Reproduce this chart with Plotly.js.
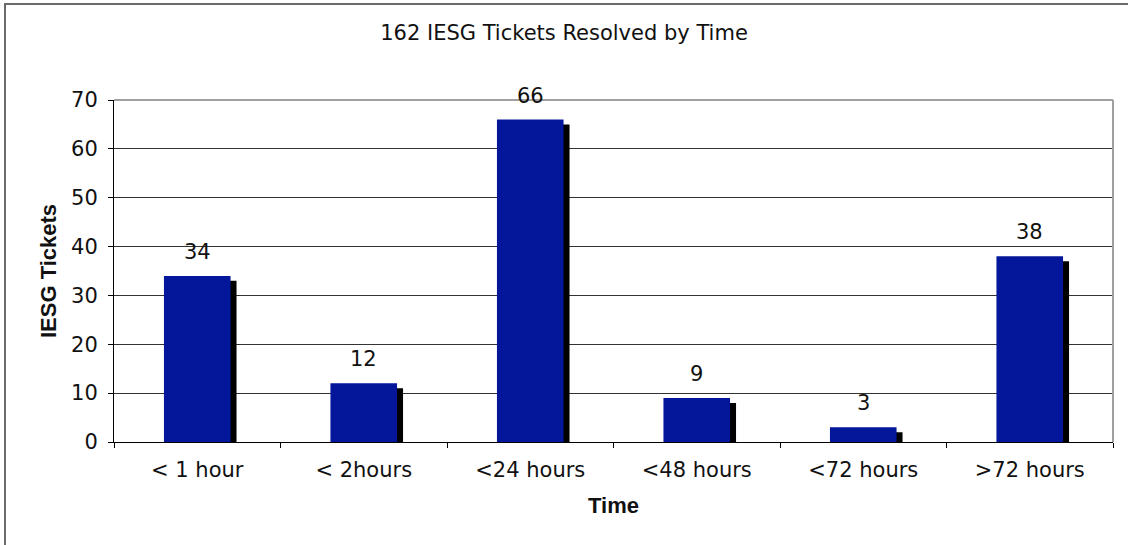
<!DOCTYPE html>
<html>
<head>
<meta charset="utf-8">
<script src="https://cdn.plot.ly/plotly-3.0.1.min.js"></script>
<style>
  html, body { margin: 0; padding: 0; background: #ffffff; }
  #wrap { position: relative; width: 1128px; height: 545px; overflow: hidden; }
  #chart { width: 1128px; height: 545px; }
  #frame { position: absolute; left: 4px; top: 3px; width: 2000px; height: 2000px;
           border: 2px solid #6a6a6a; pointer-events: none; }
</style>
</head>
<body>
<div id="wrap">
  <div id="chart"></div>
  <div id="frame"></div>
</div>
<script>
const categories = ['< 1 hour', '< 2hours', '<24 hours', '<48 hours', '<72 hours', '>72 hours'];
const tickets = [34, 12, 66, 9, 3, 38];
const yTicks = [0, 10, 20, 30, 40, 50, 60, 70];

const FONT = 'DejaVu Sans, Liberation Sans, sans-serif';
const BOLD = 'Liberation Sans, Arial, sans-serif';
const barWidth = 0.4;
const shadowDx = 0.036;   // category units (about 6 px)
const shadowDy = 1.0;     // value units (about 5 px)

const shadow = {
  type: 'bar', x: categories, y: tickets.map(v => v - shadowDy),
  width: barWidth, offset: -barWidth / 2 + shadowDx,
  marker: { color: '#000000', line: { width: 0 } },
  hoverinfo: 'skip', showlegend: false
};
const bars = {
  type: 'bar', x: categories, y: tickets,
  width: barWidth, offset: -barWidth / 2,
  marker: { color: '#04179a', line: { width: 0 } },
  showlegend: false
};

const annotations = categories.map((c, i) => ({
  x: c, y: tickets[i], xref: 'x', yref: 'y',
  text: String(tickets[i]), showarrow: false,
  yanchor: 'bottom', yshift: 10,
  font: { family: FONT, size: 21, color: '#111111' }
}));

const layout = {
  width: 1128, height: 545,
  margin: { l: 114, r: 15, t: 100, b: 103 },
  paper_bgcolor: '#ffffff', plot_bgcolor: '#ffffff',
  barmode: 'overlay', bargap: 0.6,
  title: { text: '162 IESG Tickets Resolved by Time', x: 0.5, xanchor: 'center',
           y: 1 - 33 / 545, yanchor: 'middle', yref: 'container',
           font: { family: FONT, size: 21, color: '#111111' } },
  xaxis: {
    type: 'category', showgrid: false, zeroline: false,
    showline: true, linecolor: '#000000', linewidth: 1,
    ticks: 'outside', tickson: 'boundaries', ticklen: 5, tickcolor: '#000000',
    ticklabelstandoff: 9,
    tickfont: { family: FONT, size: 21, color: '#111111' },
    title: { text: '<b>Time</b>', standoff: 16, font: { family: BOLD, size: 22, color: '#111111' } }
  },
  yaxis: {
    range: [0, 70], tickvals: yTicks, ticktext: yTicks.map(String),
    showgrid: true, gridcolor: '#333333', gridwidth: 1, zeroline: false,
    showline: true, linecolor: '#000000', linewidth: 1,
    ticks: 'outside', ticklen: 5, tickcolor: '#000000',
    ticklabelstandoff: 6,
    tickfont: { family: FONT, size: 21, color: '#111111' },
    title: { text: '<b>IESG Tickets</b>', standoff: 8, font: { family: BOLD, size: 22, color: '#111111' } }
  },
  shapes: [
    { type: 'line', xref: 'paper', yref: 'paper', x0: 0, x1: 1, y0: 1, y1: 1,
      line: { color: '#a0a0a0', width: 2 } },
    { type: 'line', xref: 'paper', yref: 'paper', x0: 1, x1: 1, y0: 0, y1: 1,
      line: { color: '#a0a0a0', width: 2 } }
  ],
  annotations: annotations
};

Plotly.newPlot('chart', [shadow, bars], layout, { displayModeBar: false, staticPlot: true });
</script>
</body>
</html>
